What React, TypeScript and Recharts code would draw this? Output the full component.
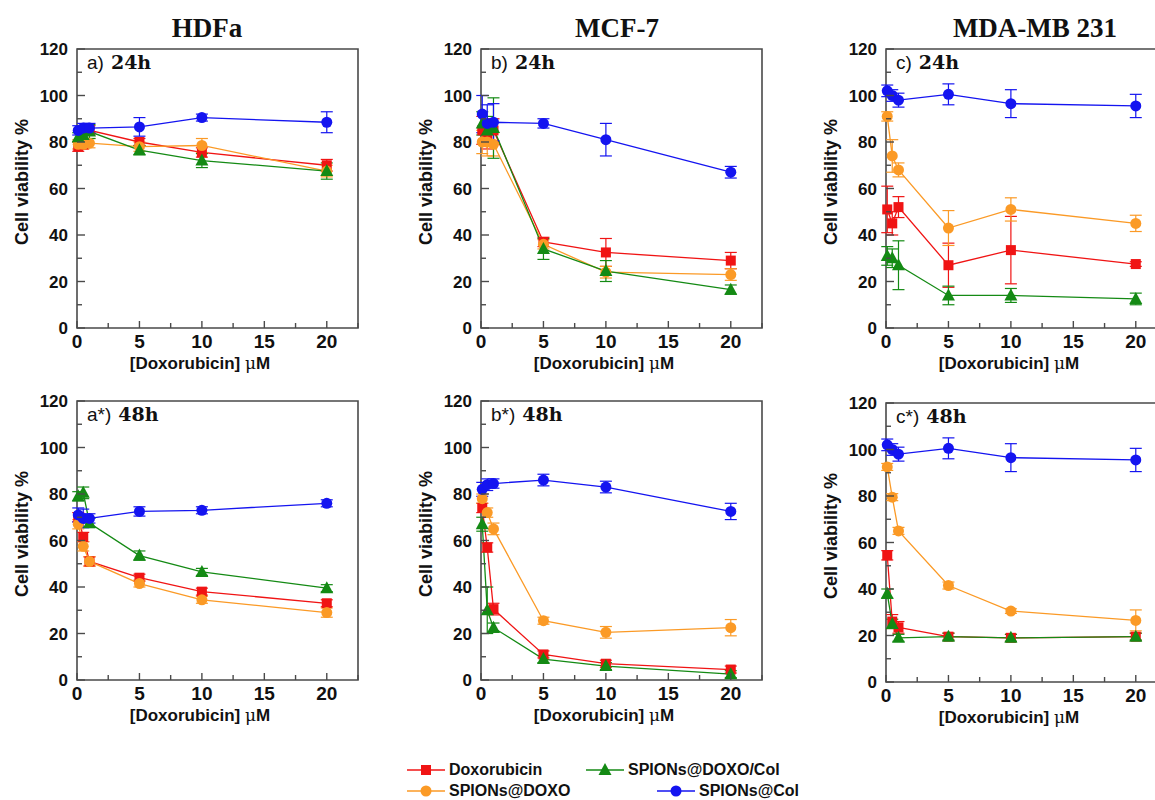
import React from "react";
import { ComposedChart, Line, XAxis, YAxis, ErrorBar, ReferenceArea } from "recharts";

// doxorubicin concentrations (µM)
const CONC = [0.1, 0.5, 1, 5, 10, 20];

// HDFa 24h
const HDFA24_DOX = [78, 79, 85, 80, 75.5, 70];
const HDFA24_DOX_ERR = [2, 2, 2, 1.5, 2, 2.5];
const HDFA24_SPD = [79, 79, 79.5, 78, 78.5, 67.5];
const HDFA24_SPD_ERR = [2, 2, 2, 2, 3, 2.5];
const HDFA24_SPDC = [82, 83, 84.5, 76.5, 72, 67.5];
const HDFA24_SPDC_ERR = [2, 2, 3, 2, 3, 3.5];
const HDFA24_SPC = [85, 86, 86, 86.5, 90.5, 88.5];
const HDFA24_SPC_ERR = [2, 2, 2, 4, 1.5, 4.5];

// MCF-7 24h
const MCF24_DOX = [85, 82, 85, 37, 32.5, 29];
const MCF24_DOX_ERR = [6, 5, 5, 2, 6, 3.5];
const MCF24_SPD = [80, 80, 79, 36, 24, 23];
const MCF24_SPD_ERR = [5, 6, 5, 2, 2.5, 2.5];
const MCF24_SPDC = [88, 85, 86, 34, 24.5, 16.5];
const MCF24_SPDC_ERR = [5, 6, 13, 4.5, 4.5, 2];
const MCF24_SPC = [92, 88, 88.5, 88, 81, 67];
const MCF24_SPC_ERR = [8, 8, 8, 2, 7, 2.5];

// MDA-MB 231 24h
const MDA24_DOX = [51, 45, 52, 27, 33.5, 27.5];
const MDA24_DOX_ERR = [10, 5, 4.5, 9.5, 14.5, 1];
const MDA24_SPD = [91, 74, 68, 43, 51, 45];
const MDA24_SPD_ERR = [2, 7, 3, 7.5, 5, 3.5];
const MDA24_SPDC = [31, 30, 27, 14, 14, 12.5];
const MDA24_SPDC_ERR = [4, 4, 10.5, 4, 3, 2.5];
const MDA24_SPC = [102, 100, 98, 100.5, 96.5, 95.5];
const MDA24_SPC_ERR = [2.5, 2.5, 3, 4.5, 6, 5];

// HDFa 48h
const HDFA48_DOX = [70, 61.5, 51, 44, 38, 33];
const HDFA48_DOX_ERR = [2, 2, 2, 1.5, 1.5, 1.5];
const HDFA48_SPD = [67, 57.5, 51, 41.5, 34.5, 29];
const HDFA48_SPD_ERR = [2, 2, 2, 1.5, 1.5, 2];
const HDFA48_SPDC = [79, 80.5, 67.5, 53.5, 46.5, 39.5];
const HDFA48_SPDC_ERR = [2, 2.5, 2, 2, 1.5, 1.5];
const HDFA48_SPC = [71, 69.5, 69.5, 72.5, 73, 76];
const HDFA48_SPC_ERR = [3, 4, 2, 2, 1.5, 1.5];

// MCF-7 48h
const MCF48_DOX = [74, 57, 30.5, 11, 7, 4.5];
const MCF48_DOX_ERR = [2, 2, 2.5, 1.5, 1.5, 1.5];
const MCF48_SPD = [78, 72, 65, 25.5, 20.5, 22.5];
const MCF48_SPD_ERR = [2, 2, 2.5, 1.5, 2.5, 3.5];
const MCF48_SPDC = [67, 30, 22.5, 9, 6, 2.5];
const MCF48_SPDC_ERR = [3, 10, 2, 1.5, 1.5, 1.5];
const MCF48_SPC = [82, 84, 84.5, 86, 83, 72.5];
const MCF48_SPC_ERR = [3, 2.5, 2, 2.5, 2.5, 3.5];

// MDA-MB 231 48h
const MDA48_DOX = [54.5, 26, 23.5, 19.5, 19, 19.5];
const MDA48_DOX_ERR = [2, 3, 2.5, 1.5, 1.5, 1.5];
const MDA48_SPD = [92.5, 79.5, 65, 41.5, 30.5, 26.5];
const MDA48_SPD_ERR = [1.5, 1.5, 1.5, 1.5, 1, 4.5];
const MDA48_SPDC = [38, 25, 19, 19.5, 19, 19.5];
const MDA48_SPDC_ERR = [2, 2, 1.5, 1.5, 1.5, 1.5];
const MDA48_SPC = [102, 100, 98, 100.5, 96.5, 95.5];
const MDA48_SPC_ERR = [2.5, 2.5, 3, 4.5, 6, 5];

const Y_TICKS = [0, 10, 20, 30, 40, 50, 60, 70, 80, 90, 100, 110, 120];
const X_TICKS = [0, 2.5, 5, 7.5, 10, 12.5, 15, 17.5, 20, 22.5];

const COLUMN_TITLES = ["HDFa", "MCF-7", "MDA-MB 231"];

const RED = "#f01414";
const ORANGE = "#fb9a26";
const GREEN = "#148a14";
const BLUE = "#1414f0";
const AXIS = "#4a4a4a";
const SANS = "'Liberation Sans', Arial, sans-serif";
const SERIF = "'DejaVu Serif', 'Liberation Serif', serif";

// chart geometry (inside each chart svg)
const PL = 70;
const PT = 15;
const PW = 281;
const PH = 279;
const PB = PT + PH;
const CW = PL + PW + 10;
const CH = PB + 50;

const PANELS = [
  { tag: "a)", time: "24h", left: 77, top: 49, dox: HDFA24_DOX, doxErr: HDFA24_DOX_ERR, spd: HDFA24_SPD, spdErr: HDFA24_SPD_ERR, spdc: HDFA24_SPDC, spdcErr: HDFA24_SPDC_ERR, spc: HDFA24_SPC, spcErr: HDFA24_SPC_ERR },
  { tag: "b)", time: "24h", left: 481, top: 49, dox: MCF24_DOX, doxErr: MCF24_DOX_ERR, spd: MCF24_SPD, spdErr: MCF24_SPD_ERR, spdc: MCF24_SPDC, spdcErr: MCF24_SPDC_ERR, spc: MCF24_SPC, spcErr: MCF24_SPC_ERR },
  { tag: "c)", time: "24h", left: 886, top: 49, dox: MDA24_DOX, doxErr: MDA24_DOX_ERR, spd: MDA24_SPD, spdErr: MDA24_SPD_ERR, spdc: MDA24_SPDC, spdcErr: MDA24_SPDC_ERR, spc: MDA24_SPC, spcErr: MDA24_SPC_ERR },
  { tag: "a*)", time: "48h", left: 77, top: 401, dox: HDFA48_DOX, doxErr: HDFA48_DOX_ERR, spd: HDFA48_SPD, spdErr: HDFA48_SPD_ERR, spdc: HDFA48_SPDC, spdcErr: HDFA48_SPDC_ERR, spc: HDFA48_SPC, spcErr: HDFA48_SPC_ERR },
  { tag: "b*)", time: "48h", left: 481, top: 401, dox: MCF48_DOX, doxErr: MCF48_DOX_ERR, spd: MCF48_SPD, spdErr: MCF48_SPD_ERR, spdc: MCF48_SPDC, spdcErr: MCF48_SPDC_ERR, spc: MCF48_SPC, spcErr: MCF48_SPC_ERR },
  { tag: "c*)", time: "48h", left: 886, top: 403, dox: MDA48_DOX, doxErr: MDA48_DOX_ERR, spd: MDA48_SPD, spdErr: MDA48_SPD_ERR, spdc: MDA48_SPDC, spdcErr: MDA48_SPDC_ERR, spc: MDA48_SPC, spcErr: MDA48_SPC_ERR },
];

type Shape = "square" | "circle" | "triangle";

function Marker({ cx, cy, color, shape }: { cx: number; cy: number; color: string; shape: Shape }) {
  if (cx == null || cy == null) return null;
  if (shape === "square") return <rect x={cx - 5} y={cy - 5} width={10} height={10} fill={color} />;
  if (shape === "triangle")
    return <polygon points={`${cx},${cy - 7} ${cx - 6.5},${cy + 5} ${cx + 6.5},${cy + 5}`} fill={color} />;
  return <circle cx={cx} cy={cy} r={5.5} fill={color} />;
}

function YTick(props: any) {
  const { y, payload } = props;
  const v = payload.value as number;
  const major = v % 20 === 0;
  return (
    <g>
      <line x1={PL} x2={PL + (major ? 8 : 5)} y1={y} y2={y} stroke={AXIS} strokeWidth={1.4} />
      {major && (
        <text x={PL - 9} y={y} dy="0.36em" textAnchor="end" fontSize={17} fontWeight="bold" fill="#111" fontFamily={SANS}>
          {v}
        </text>
      )}
    </g>
  );
}

function XTick(props: any) {
  const { x, payload } = props;
  const v = payload.value as number;
  const major = v % 5 === 0;
  return (
    <g>
      <line x1={x} x2={x} y1={PB} y2={PB - (major ? 7 : 5)} stroke={AXIS} strokeWidth={1.4} />
      {major && (
        <text x={x} y={PB + 20} textAnchor="middle" fontSize={19} fontWeight="bold" fill="#111" fontFamily={SANS}>
          {v}
        </text>
      )}
    </g>
  );
}

const SERIES: { key: "dox" | "spd" | "spdc" | "spc"; color: string; shape: Shape }[] = [
  { key: "dox", color: RED, shape: "square" },
  { key: "spd", color: ORANGE, shape: "circle" },
  { key: "spdc", color: GREEN, shape: "triangle" },
  { key: "spc", color: BLUE, shape: "circle" },
];

function Panel({ p }: { p: (typeof PANELS)[number] }) {
  const rows = CONC.map((x, i) => ({
    x,
    dox: p.dox[i], doxErr: p.doxErr[i],
    spd: p.spd[i], spdErr: p.spdErr[i],
    spdc: p.spdc[i], spdcErr: p.spdcErr[i],
    spc: p.spc[i], spcErr: p.spcErr[i],
  }));
  return (
    <>
      <div style={{ position: "absolute", left: p.left - PL, top: p.top - PT }}>
        <ComposedChart width={CW} height={CH} data={rows} margin={{ top: PT, right: 10, left: 0, bottom: 0 }}>
          <XAxis
            dataKey="x"
            type="number"
            domain={[0, 22.5]}
            ticks={X_TICKS}
            interval={0}
            height={50}
            axisLine={false}
            tickLine={false}
            tick={<XTick />}
          />
          <YAxis
            type="number"
            domain={[0, 120]}
            ticks={Y_TICKS}
            interval={0}
            width={PL}
            axisLine={false}
            tickLine={false}
            tick={<YTick />}
          />
          <ReferenceArea x1={0} x2={22.5} y1={0} y2={120} fill="none" stroke={AXIS} strokeWidth={1.6} />
          {SERIES.map(s => (
            <Line
              key={s.key}
              dataKey={s.key}
              stroke={s.color}
              strokeWidth={1.3}
              isAnimationActive={false}
              activeDot={false}
              dot={(d: any) => <Marker key={`${s.key}-${d.index}`} cx={d.cx} cy={d.cy} color={s.color} shape={s.shape} />}
            >
              <ErrorBar dataKey={`${s.key}Err`} direction="y" width={6} stroke={s.color} strokeWidth={1.2} isAnimationActive={false} />
            </Line>
          ))}
        </ComposedChart>
      </div>
      {/* panel tag */}
      <div style={{ position: "absolute", left: p.left + 10, top: p.top + 3, display: "flex", alignItems: "baseline", whiteSpace: "nowrap", color: "#111", lineHeight: 1.1 }}>
        <span style={{ fontFamily: SANS, fontSize: 19 }}>{p.tag}</span>
        <span style={{ fontFamily: SERIF, fontSize: 19, fontWeight: "bold", marginLeft: 7 }}>{p.time}</span>
      </div>
      {/* y title */}
      <div
        style={{
          position: "absolute",
          left: p.left - 55,
          top: p.top + 133,
          transform: "translate(-50%, -50%) rotate(-90deg)",
          fontFamily: SANS,
          fontWeight: "bold",
          fontSize: 18,
          lineHeight: 1,
          whiteSpace: "nowrap",
          color: "#111",
        }}
      >
        Cell viability %
      </div>
      {/* x title */}
      <div
        style={{
          position: "absolute",
          left: p.left + 123,
          top: p.top + PH + 35,
          transform: "translate(-50%, -50%)",
          fontFamily: SANS,
          fontWeight: "bold",
          fontSize: 17,
          lineHeight: 1,
          whiteSpace: "nowrap",
          color: "#111",
        }}
      >
        [Doxorubicin] <span style={{ fontFamily: SERIF, fontWeight: "normal" }}>μ</span>M
      </div>
    </>
  );
}

const LEGEND = [
  { label: "Doxorubicin", color: RED, shape: "square" as Shape, x: 407, y: 770 },
  { label: "SPIONs@DOXO/Col", color: GREEN, shape: "triangle" as Shape, x: 586, y: 770 },
  { label: "SPIONs@DOXO", color: ORANGE, shape: "circle" as Shape, x: 407, y: 791 },
  { label: "SPIONs@Col", color: BLUE, shape: "circle" as Shape, x: 657, y: 791 },
];

const TITLE_X = [207, 617, 1035];

export default function App() {
  return (
    <div style={{ position: "fixed", left: 0, top: 0, width: 1155, height: 800, overflow: "hidden", background: "#fff" }}>
      {COLUMN_TITLES.map((t, i) => (
        <div
          key={t}
          style={{
            position: "absolute",
            left: TITLE_X[i],
            top: 28,
            transform: "translate(-50%, -50%)",
            fontFamily: "'Liberation Serif', serif",
            fontWeight: "bold",
            fontSize: 27,
            lineHeight: 1,
            whiteSpace: "nowrap",
            color: "#111",
          }}
        >
          {t}
        </div>
      ))}
      {PANELS.map(p => (
        <Panel key={p.tag} p={p} />
      ))}
      {LEGEND.map(l => (
        <div
          key={l.label}
          style={{ position: "absolute", left: l.x, top: l.y - 9, height: 18, display: "flex", alignItems: "center", whiteSpace: "nowrap" }}
        >
          <svg width={40} height={18}>
            <line x1={0} x2={38} y1={9} y2={9} stroke={l.color} strokeWidth={1.5} />
            <Marker cx={19} cy={9} color={l.color} shape={l.shape} />
          </svg>
          <span style={{ fontFamily: SANS, fontWeight: "bold", fontSize: 16, lineHeight: 1, marginLeft: 2, color: "#111" }}>{l.label}</span>
        </div>
      ))}
    </div>
  );
}
